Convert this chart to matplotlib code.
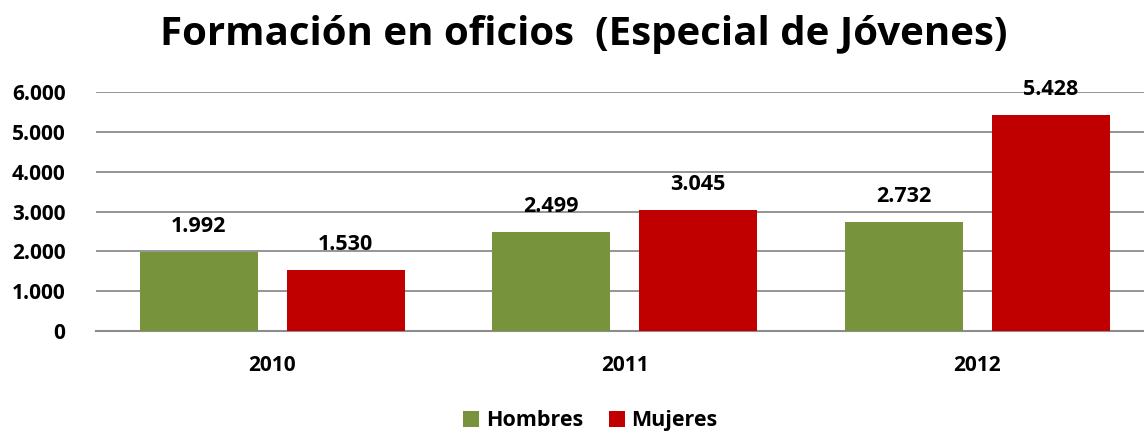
import matplotlib
matplotlib.use("Agg")
import matplotlib.pyplot as plt
import numpy as np
from matplotlib.ticker import FuncFormatter

categories = ["2010", "2011", "2012"]
hombres = [1992, 2499, 2732]
mujeres = [1530, 3045, 5428]
yticks = [0, 1000, 2000, 3000, 4000, 5000, 6000]

plt.rcParams['font.family'] = ['Open Sans', 'DejaVu Sans']
plt.rcParams['font.weight'] = 'bold'

fig = plt.figure(figsize=(11.44, 4.34), dpi=100)
ax = fig.add_axes([0.0839, 0.237, 0.9244, 0.551])

x = np.arange(len(categories))
w = 0.335
off = 0.208
green = '#77933C'
red = '#C00000'
b1 = ax.bar(x - off, hombres, w, color=green, label='Hombres', zorder=3)
b2 = ax.bar(x + off, mujeres, w, color=red, label='Mujeres', zorder=3)

def fmt(v):
    return f"{v:,.0f}".replace(",", ".")

for bars, vals in ((b1, hombres), (b2, mujeres)):
    for r, v in zip(bars, vals):
        ax.text(r.get_x() + r.get_width() / 2, v + 640, fmt(v), ha='center', va='center',
                fontsize=15.5, fontweight='bold', clip_on=False)

ax.set_xlim(-0.5, 2.5)
ax.set_ylim(0, 6000)
ax.set_yticks(yticks)
ax.yaxis.set_major_formatter(FuncFormatter(lambda v, p: fmt(v)))
ax.set_xticks(x)
ax.set_xticklabels(categories)
ax.tick_params(axis='y', length=0, pad=22, labelsize=15)
ax.tick_params(axis='x', length=0, pad=17, labelsize=15)
for lab in ax.get_yticklabels() + ax.get_xticklabels():
    lab.set_fontweight('bold')
ax.grid(axis='y', color='#8C8C8C', linewidth=1.3, zorder=0)
for s in ['top', 'right', 'left']:
    ax.spines[s].set_visible(False)
ax.spines['bottom'].set_color('#8C8C8C')
ax.spines['bottom'].set_linewidth(1.5)

fig.text(0.51, 0.92, "Formación en oficios  (Especial de Jóvenes)", ha='center', va='center',
         fontsize=29, fontweight='bold')

leg = fig.legend(handles=[b1, b2], loc='center', bbox_to_anchor=(0.516, 0.03), ncol=2, frameon=False,
                 prop={'size': 15.5, 'weight': 'bold'}, handlelength=0.75, handleheight=0.75,
                 handletextpad=0.3, columnspacing=1.2)

fig.savefig("out.png", dpi=100)
